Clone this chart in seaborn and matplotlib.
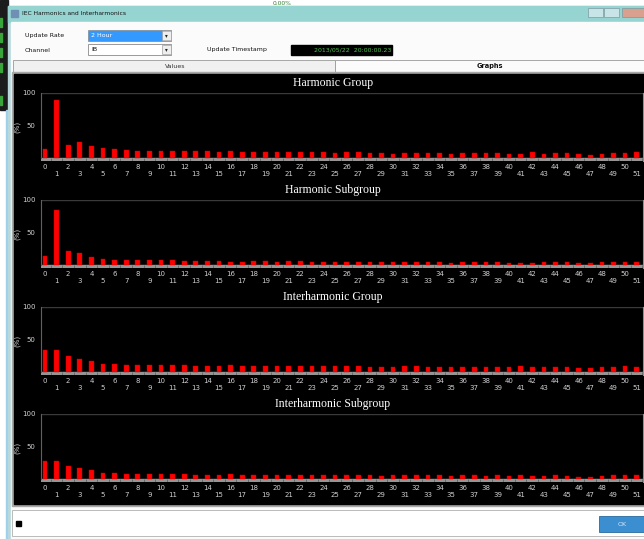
import numpy as np
import pandas as pd
import matplotlib
matplotlib.use("Agg")
import matplotlib.pyplot as plt
from matplotlib.patches import Rectangle
import seaborn as sns

# ordens harmonicas 0..51
ordens = list(range(52))

harm_grupo = [14, 89, 20, 24, 19, 16, 14, 12, 11, 11, 11, 11, 11, 10, 10,
              9, 10, 9, 9, 9, 9, 9, 9, 9, 9, 8, 9, 9, 8, 7.5, 6.5, 8, 8,
              8, 7.5, 6.5, 7.5, 7.5, 7.5, 7.5, 6.5, 6.5, 9.5, 6.5, 7.5, 7.5, 6, 5, 6, 7.5, 7.5, 8.5]
harm_subgrupo = [14.5, 84, 21, 18.5, 11.5, 9, 7.5, 7, 7, 7, 7.5, 7, 6, 6, 6,
                 6, 5, 4.5, 6, 6, 5, 6, 6, 5, 4, 4, 5, 5, 5, 4, 5, 5, 5,
                 4, 4, 3, 4, 4, 4, 4, 3, 3, 3, 4, 4, 4, 3, 3, 4, 5, 5, 5]
inter_grupo = [33.5, 33, 25, 20, 16.5, 12.5, 11.5, 11, 11, 11, 11, 11, 10, 9.5, 9.5,
               9.5, 10, 9.5, 9, 9, 9.5, 9.5, 9.5, 9, 9, 9, 9.5, 9, 8, 7, 8, 9, 9,
               8, 8, 7, 8, 8, 8, 8, 7, 9.5, 7, 7, 8, 7, 6, 6, 7, 8, 9, 8]
inter_subgrupo = [28, 27, 19.5, 17, 13, 9.5, 9, 8, 8, 8, 8, 8, 7.5, 6.5, 6.5,
                  6.5, 7.5, 6.5, 6.5, 6.5, 6.5, 6.5, 6.5, 6.5, 6.5, 6.5, 6.5, 6.5, 5.5, 4.5, 5.5, 6.5, 6.5,
                  5.5, 5.5, 4.5, 5.5, 5.5, 4.5, 5.5, 4.5, 6.5, 4.5, 4.5, 5.5, 4.5, 3.5, 3, 4.5, 5.5, 5.5, 5.5]

titulos = ["Harmonic Group", "Harmonic Subgroup", "Interharmonic Group", "Interharmonic Subgroup"]
series = [harm_grupo, harm_subgrupo, inter_grupo, inter_subgrupo]

W, H = 644, 539
txt_cor = '#d0d0d0'

sns.set_style("dark")
plt.rcParams['font.family'] = ['DejaVu Sans']

fig = plt.figure(figsize=(W / 100, H / 100), dpi=100)


def px_rect(l, t, r, b):
    return [l / W, 1 - b / H, (r - l) / W, (b - t) / H]


# fundo / moldura da janela (coordenadas em pixels)
bg = fig.add_axes([0, 0, 1, 1])
bg.set_xlim(0, W)
bg.set_ylim(H, 0)
bg.axis('off')
bg.add_patch(Rectangle((0, 0), W, H, color='#ffffff'))
# janela de tras a esquerda
bg.add_patch(Rectangle((0, 0), 8, 110, color='#1c1c1c'))
for yy in [22, 37, 52, 67, 100]:
    bg.add_patch(Rectangle((0, yy - 4), 2, 9, color='#3aa53a'))
bg.add_patch(Rectangle((6.5, 110), 1.5, H - 110, color='#9fd0ea'))
bg.text(282, 3.2, "0.00%", color='#2e7d2e', fontsize=4.3, ha='center', va='center')
# janela do dialogo
bg.add_patch(Rectangle((8, 6), W - 8, H - 6, color='#b9d8dc'))
bg.add_patch(Rectangle((8, 6), W - 8, 16, color='#96d4d2'))
bg.add_patch(Rectangle((11, 22), W - 11, H - 22, color='#fbfbfb'))
bg.add_patch(Rectangle((11, 10), 7, 7, color='#6f8fb5'))
bg.text(22, 13.5, "IEC Harmonics and Interharmonics", fontsize=4.3, va='center', color='#111111')
for i, xx in enumerate([588, 604, 622]):
    bg.add_patch(Rectangle((xx, 8), 15 if i < 2 else 22, 9,
                           facecolor='#c8e4e6' if i < 2 else '#d9a090', edgecolor='#7a9aa0', lw=0.5))

# controles
bg.text(25, 36, "Update Rate", fontsize=4.5, va='center', color='#111111')
bg.text(25, 50, "Channel", fontsize=4.5, va='center', color='#111111')
bg.add_patch(Rectangle((88, 30), 83, 11, facecolor='white', edgecolor='#8a8a8a', lw=0.6))
bg.add_patch(Rectangle((89, 31), 73, 9, color='#3399ff'))
bg.text(91, 35.5, "2 Hour", fontsize=4.5, va='center', color='white')
bg.add_patch(Rectangle((88, 44), 83, 11, facecolor='white', edgecolor='#8a8a8a', lw=0.6))
bg.text(91, 49.5, "IB", fontsize=4.5, va='center', color='#111111')
for yy in [30, 44]:
    bg.add_patch(Rectangle((162, yy + 1), 9, 9, facecolor='#eeeeee', edgecolor='#a0a0a0', lw=0.5))
    bg.text(166.5, yy + 5.5, "▾", fontsize=4, ha='center', va='center', color='#222222')
bg.text(207, 50, "Update Timestamp", fontsize=4.5, va='center', color='#111111')
bg.add_patch(Rectangle((291, 44.5), 101, 10, color='#000000'))
bg.text(391, 49.5, "2013/05/22  20:00:00.23", fontsize=4.5, ha='right', va='center', color='#4fc24f')

# abas
bg.add_patch(Rectangle((13, 60), 322, 12, facecolor='#f0f0f0', edgecolor='#9a9a9a', lw=0.6))
bg.add_patch(Rectangle((335, 60), W - 335, 12, facecolor='#fbfbfb', edgecolor='#9a9a9a', lw=0.6))
bg.text(175, 66, "Values", fontsize=4.5, ha='center', va='center', color='#333333')
bg.text(490, 66, "Graphs", fontsize=4.8, ha='center', va='center', color='#111111', fontweight='bold')

# painel preto
bg.add_patch(Rectangle((12, 72), W - 12, 434, color='#a8a8a8'))
bg.add_patch(Rectangle((14, 74), W - 14, 430, color='#000000'))

# rodape
bg.add_patch(Rectangle((12, 510), W - 12, 26, facecolor='#ffffff', edgecolor='#b0b0b0', lw=0.6))
bg.add_patch(Rectangle((16.5, 521), 5, 5, color='#000000'))
bg.add_patch(Rectangle((599, 516), 45, 16, facecolor='#3b8ed0', edgecolor='#2a6aa0', lw=0.6))
bg.text(622, 524, "OK", fontsize=4.5, ha='center', va='center', color='#dce8f5')

# graficos
ax_l, ax_r = 40.7, 642.7
topos = [92.5, 199.5, 306.5, 413.5]
alt = 65.5

for k, (titulo, vals) in enumerate(zip(titulos, series)):
    t = topos[k]
    ax = fig.add_axes(px_rect(ax_l, t, ax_r, t + alt * 1.05))
    ax.set_facecolor('#000000')
    df = pd.DataFrame({'ordem': ordens, 'valor': vals})
    sns.barplot(data=df, x='ordem', y='valor', color='#ff0000', saturation=1,
                width=0.4, edgecolor='#c00000', linewidth=0.3, ax=ax)
    ax.set_ylim(-5, 100)
    ax.set_xlim(-0.37, 51.52)
    # faixa cinza do eixo x
    ax.axhspan(-5, 0, color='#959595', zorder=0.5)
    ax.vlines(np.arange(len(ordens)) + 0.5, -5, 0, color='#5a5a5a', lw=0.5)
    ax.axhline(100, color='#3a3a3a', lw=1.0)
    ax.grid(False)

    labels = [str(o) if o % 2 == 0 else "\n" + str(o) for o in ordens]
    ax.set_xticks(range(len(ordens)))
    ax.set_xticklabels(labels, fontsize=5, color=txt_cor, linespacing=1.15, va='top')
    ax.tick_params(axis='x', length=0, pad=2)
    ax.set_yticks([50, 100])
    ax.set_yticklabels(["50", "100"], fontsize=5, color=txt_cor)
    ax.set_yticks(np.arange(0, 101, 10), minor=True)
    ax.tick_params(axis='y', which='major', length=2, color='#707070', pad=2.5, direction='inout')
    ax.tick_params(axis='y', which='minor', length=1.5, color='#505050', direction='inout')
    ax.set_xlabel("")
    ax.set_ylabel("(%)", fontsize=5, color=txt_cor, labelpad=1)
    ax.yaxis.set_label_coords(-0.034, 0.5)

    for s in ['top', 'bottom']:
        ax.spines[s].set_visible(False)
    ax.spines['left'].set_color('#606060')
    ax.spines['left'].set_linewidth(0.8)
    ax.spines['left'].set_bounds(0, 100)
    ax.spines['right'].set_color('#909090')
    ax.spines['right'].set_linewidth(0.8)

    ax.set_title(titulo, fontsize=8.5, color='white', family='Liberation Serif',
                 x=0.485, pad=4.5)

fig.savefig("out.png", dpi=100, facecolor='white')
